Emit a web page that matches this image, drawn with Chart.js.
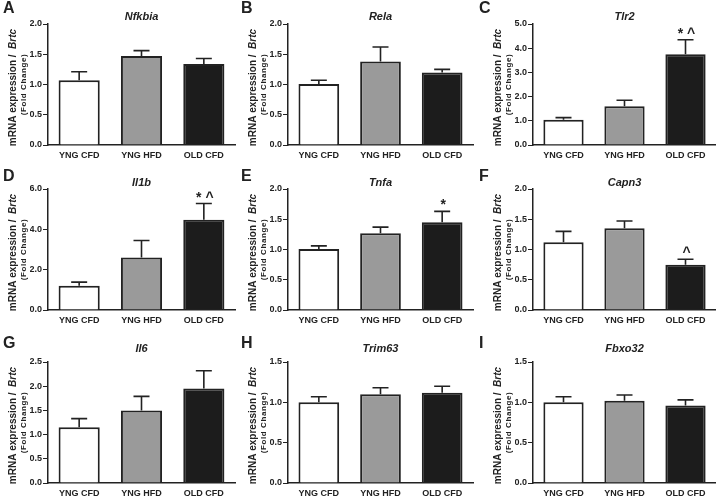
<!DOCTYPE html>
<html>
<head>
<meta charset="utf-8">
<script src="https://cdn.jsdelivr.net/npm/chart.js@4.4.1/dist/chart.umd.min.js"></script>
<style>
  body { margin: 0; background: #fff; }
  #wrap { position: relative; width: 716px; height: 498px; }
  .panel { position: absolute; }
</style>
</head>
<body>
<div id="wrap"></div>
<script>
const categories = ['YNG CFD', 'YNG HFD', 'OLD CFD'];
const genes = ['Nfkbia', 'Rela', 'Tlr2', 'Il1b', 'Tnfa', 'Capn3', 'Il6', 'Trim63', 'Fbxo32'];
const letters = ['A', 'B', 'C', 'D', 'E', 'F', 'G', 'H', 'I'];
// mean fold change per group
const means = [
  [1.07, 1.47, 1.34],
  [1.01, 1.38, 1.20],
  [1.04, 1.60, 3.75],
  [1.20, 2.60, 4.48],
  [1.01, 1.27, 1.45],
  [1.12, 1.35, 0.75],
  [1.15, 1.50, 1.95],
  [1.00, 1.10, 1.12],
  [1.00, 1.02, 0.96]
];
// top of the error bar (mean + SEM)
const errTops = [
  [1.21, 1.56, 1.43],
  [1.07, 1.62, 1.25],
  [1.13, 1.85, 4.35],
  [1.38, 3.45, 5.28],
  [1.06, 1.37, 1.63],
  [1.30, 1.47, 0.84],
  [1.33, 1.79, 2.32],
  [1.07, 1.18, 1.20],
  [1.07, 1.09, 1.03]
];
const yMax = [2, 2, 5, 6, 2, 2, 2.5, 1.5, 1.5];
const yStep = [0.5, 0.5, 1, 2, 0.5, 0.5, 0.5, 0.5, 0.5];
const marks = [
  ['', '', ''], ['', '', ''], ['', '', '* ^'],
  ['', '', '* ^'], ['', '', '*'], ['', '', '^'],
  ['', '', ''], ['', '', ''], ['', '', '']
];

const barColors = ['#ffffff', '#9a9a9a', '#1c1c1c'];
const ink = '#222';
const FONT = '"Liberation Sans", Arial, sans-serif';

// panel layout
const colLeft = [0, 238, 476], colWidth = [238, 238, 240];
const plotLeft = [48, 50, 57], plotRight = [235, 235, 240];
const rowTop = [0, 166, 332], plotTop = [24, 23, 30], letterY = [9, 11, 12];
const plotH = 121, panelH = 166, yAxisW = 18, xAxisH = 16;

const decor = {
  id: 'decor',
  afterDatasetsDraw(chart, args, opts) {
    const ctx = chart.ctx, y = chart.scales.y;
    const meta = chart.getDatasetMeta(0);
    ctx.save();
    ctx.strokeStyle = ink;
    ctx.lineWidth = 1.6;
    meta.data.forEach((bar, i) => {
      const y0 = y.getPixelForValue(opts.means[i]);
      const y1 = y.getPixelForValue(opts.errs[i]);
      ctx.beginPath();
      ctx.moveTo(bar.x, y0);
      ctx.lineTo(bar.x, y1);
      ctx.moveTo(bar.x - 8, y1);
      ctx.lineTo(bar.x + 8, y1);
      ctx.stroke();
      if (opts.marks[i]) {
        ctx.fillStyle = ink;
        ctx.font = 'bold 14px ' + FONT;
        ctx.textAlign = 'center';
        ctx.textBaseline = 'alphabetic';
        ctx.fillText(opts.marks[i], bar.x + 1, y1 - 2);
      }
    });
    ctx.restore();
  },
  afterDraw(chart, args, opts) {
    const ctx = chart.ctx, a = chart.chartArea;
    ctx.save();
    ctx.fillStyle = ink;
    // panel letter
    ctx.font = 'bold 16px ' + FONT;
    ctx.textAlign = 'left';
    ctx.textBaseline = 'middle';
    ctx.fillText(opts.letter, 3, opts.letterY);
    // gene title
    ctx.font = 'italic bold 11px ' + FONT;
    ctx.textAlign = 'center';
    ctx.fillText(opts.gene, (a.left + a.right) / 2, 17);
    // y axis title, two lines
    const cy = (a.top + a.bottom) / 2;
    ctx.translate(a.left - 35, cy);
    ctx.rotate(-Math.PI / 2);
    const p1 = 'mRNA expression /  ', p2 = 'Brtc';
    ctx.font = 'bold 10px ' + FONT;
    const w1 = ctx.measureText(p1).width;
    ctx.font = 'italic bold 10px ' + FONT;
    const w2 = ctx.measureText(p2).width;
    let x = -(w1 + w2) / 2 - 3;
    ctx.textAlign = 'left';
    ctx.font = 'bold 10px ' + FONT;
    ctx.fillText(p1, x, 0);
    ctx.font = 'italic bold 10px ' + FONT;
    ctx.fillText(p2, x + w1, 0);
    ctx.font = 'bold 8px ' + FONT;
    ctx.letterSpacing = '0.6px';
    ctx.textAlign = 'center';
    ctx.fillText('(Fold Change)', 0, 11);
    ctx.restore();
  }
};

const wrap = document.getElementById('wrap');
genes.forEach((gene, i) => {
  const col = i % 3, row = Math.floor(i / 3);
  const div = document.createElement('div');
  div.className = 'panel';
  div.style.left = colLeft[col] + 'px';
  div.style.top = rowTop[row] + 'px';
  const cv = document.createElement('canvas');
  cv.width = colWidth[col];
  cv.height = panelH;
  cv.style.width = colWidth[col] + 'px';
  cv.style.height = panelH + 'px';
  div.appendChild(cv);
  wrap.appendChild(div);

  new Chart(cv, {
    type: 'bar',
    data: {
      labels: categories,
      datasets: [{
        data: means[i],
        backgroundColor: barColors,
        borderColor: ink,
        borderWidth: 2,
        barPercentage: 0.66,
        categoryPercentage: 1
      }]
    },
    options: {
      responsive: false,
      animation: false,
      layout: {
        padding: {
          left: plotLeft[col] - yAxisW,
          right: colWidth[col] - plotRight[col],
          top: plotTop[row],
          bottom: panelH - plotTop[row] - plotH - xAxisH
        }
      },
      plugins: {
        legend: { display: false },
        tooltip: { enabled: false },
        decor: {
          means: means[i], errs: errTops[i], marks: marks[i],
          gene: gene, letter: letters[i], letterY: letterY[row]
        }
      },
      scales: {
        x: {
          afterFit: s => { s.height = xAxisH; },
          grid: { display: true, drawOnChartArea: false, drawTicks: false },
          border: { color: ink, width: 1.5 },
          ticks: { color: ink, padding: 5, font: { family: FONT, size: 9, weight: 'bold' } }
        },
        y: {
          min: 0,
          max: yMax[i],
          afterFit: s => { s.width = yAxisW; },
          grid: { drawOnChartArea: false, drawTicks: true, tickLength: 5, color: ink, lineWidth: 1 },
          border: { color: ink, width: 1.5 },
          ticks: {
            stepSize: yStep[i],
            padding: 1,
            color: ink,
            font: { family: FONT, size: 9, weight: 'bold' },
            callback: v => v.toFixed(1)
          }
        }
      }
    },
    plugins: [decor]
  });
});
</script>
</body>
</html>
